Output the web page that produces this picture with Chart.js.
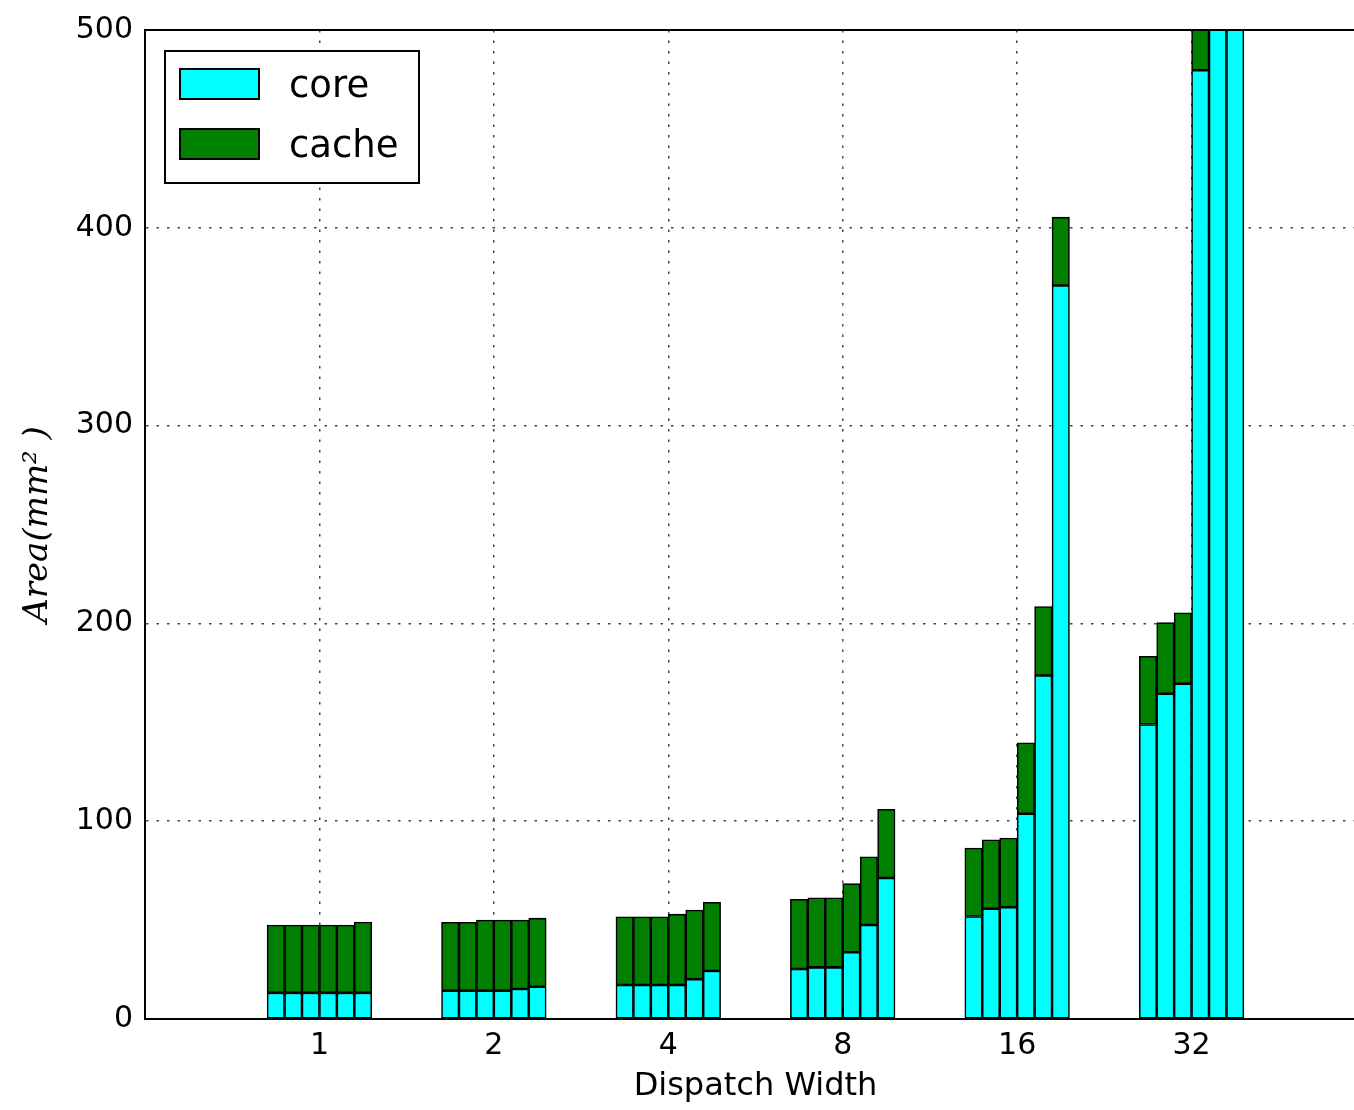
<!DOCTYPE html>
<html>
<head>
<meta charset="utf-8">
<script src="https://cdn.jsdelivr.net/npm/chart.js@4.4.1/dist/chart.umd.min.js"></script>
<style>
  html, body { margin: 0; padding: 0; background: #fff; overflow: hidden; }
</style>
</head>
<body>
<canvas id="areaChart" width="1370" height="1110"></canvas>
<script>
const widths = ["1", "2", "4", "8", "16", "32"];
const yTicks = [0, 100, 200, 300, 400, 500];

// core area (mm^2), six configurations per dispatch width
const coreW1 = [13.2, 13.2, 13.2, 13.2, 13.2, 13.2];
const coreW2 = [14.3, 14.3, 14.3, 14.3, 15.2, 16.3];
const coreW4 = [17.2, 17.2, 17.2, 17.2, 20.1, 24.3];
const coreW8 = [25.3, 26.1, 26.1, 33.7, 47.5, 71.3];
const coreW16 = [51.8, 55.7, 56.5, 103.8, 173.7, 370.8];
const coreW32 = [148.9, 164.4, 169.5, 479.6, 650, 980];

// cache area (mm^2)
const cacheW1 = [34.3, 34.3, 34.3, 34.3, 34.3, 35.8];
const cacheW2 = [34.6, 34.6, 35.7, 35.7, 34.8, 34.7];
const cacheW4 = [34.5, 34.5, 34.5, 35.8, 35.0, 34.7];
const cacheW8 = [35.2, 35.2, 35.2, 34.7, 34.5, 34.7];
const cacheW16 = [34.6, 34.9, 35.0, 35.8, 34.8, 34.6];
const cacheW32 = [34.5, 36.0, 35.9, 35.0, 35.0, 35.0];

const coreGroups = [coreW1, coreW2, coreW4, coreW8, coreW16, coreW32];
const cacheGroups = [cacheW1, cacheW2, cacheW4, cacheW8, cacheW16, cacheW32];

const barStep = 0.1;

function toPoints(groups) {
  const pts = [];
  groups.forEach((vals, g) => {
    vals.forEach((v, j) => {
      pts.push({ x: g + (j - (vals.length - 1) / 2) * barStep, y: v });
    });
  });
  return pts;
}

// top frame line + boxed legend inside the plot
const frameAndLegend = {
  id: "frameAndLegend",
  afterDraw(chart) {
    const { ctx, chartArea } = chart;
    ctx.save();
    ctx.strokeStyle = "#000";
    ctx.lineWidth = 2;
    ctx.beginPath();
    ctx.moveTo(chartArea.left, chartArea.top);
    ctx.lineTo(chartArea.right, chartArea.top);
    ctx.stroke();

    const bx = chartArea.left + 20;
    const by = chartArea.top + 21;
    ctx.fillStyle = "#fff";
    ctx.fillRect(bx, by, 254, 132);
    ctx.strokeRect(bx, by, 254, 132);

    ctx.font = "37px 'DejaVu Sans'";
    ctx.textBaseline = "alphabetic";
    ctx.textAlign = "left";
    chart.data.datasets.forEach((ds, i) => {
      const sy = by + 18 + i * 60;
      ctx.fillStyle = ds.backgroundColor;
      ctx.fillRect(bx + 15, sy, 79, 30);
      ctx.lineWidth = 2;
      ctx.strokeRect(bx + 15, sy, 79, 30);
      ctx.fillStyle = "#000";
      ctx.fillText(ds.label, bx + 124, sy + 28);
    });
    ctx.restore();
  },
};

new Chart(document.getElementById("areaChart"), {
  type: "bar",
  data: {
    datasets: [
      {
        label: "core",
        data: toPoints(coreGroups),
        backgroundColor: "#00ffff",
        borderColor: "#000",
        borderWidth: 1.6,
        borderSkipped: false,
        barPercentage: 1,
        categoryPercentage: 1,
      },
      {
        label: "cache",
        data: toPoints(cacheGroups),
        backgroundColor: "#007f00",
        borderColor: "#000",
        borderWidth: 1.6,
        borderSkipped: false,
        barPercentage: 1,
        categoryPercentage: 1,
      },
    ],
  },
  options: {
    responsive: false,
    animation: false,
    layout: { padding: { left: 0, top: 30, right: 4, bottom: 0 } },
    plugins: {
      legend: { display: false },
      tooltip: { enabled: false },
    },
    scales: {
      x: {
        type: "linear",
        stacked: true,
        offset: false,
        min: -1,
        max: 6,
        afterBuildTicks: (scale) => {
          scale.ticks = widths.map((_, i) => ({ value: i }));
        },
        afterFit: (scale) => {
          scale.height = 91;
        },
        ticks: {
          callback: (value, index) => widths[index],
          font: { family: "DejaVu Sans", size: 30 },
          color: "#000",
          padding: 9,
          maxRotation: 0,
        },
        grid: {
          offset: false,
          color: "#444",
          lineWidth: 1.5,
          drawTicks: false,
        },
        border: { display: true, color: "#000", width: 2, dash: [2.5, 8] },
        title: {
          display: true,
          text: "Dispatch Width",
          font: { family: "DejaVu Sans", size: 32 },
          color: "#000",
          padding: { top: 0, bottom: 4 },
        },
      },
      y: {
        stacked: true,
        min: 0,
        max: 500,
        afterBuildTicks: (scale) => {
          scale.ticks = yTicks.map((v) => ({ value: v }));
        },
        afterFit: (scale) => {
          scale.width = 145;
        },
        ticks: {
          font: { family: "DejaVu Sans", size: 30 },
          color: "#000",
          padding: 12,
        },
        grid: {
          color: "#444",
          lineWidth: 1.5,
          drawTicks: false,
        },
        border: { display: true, color: "#000", width: 2, dash: [2.5, 8] },
        title: {
          display: true,
          text: "Area(mm² )",
          font: { family: "DejaVu Serif", style: "italic", size: 34 },
          color: "#000",
          padding: { top: 18, bottom: 0 },
        },
      },
    },
  },
  plugins: [frameAndLegend],
});
</script>
</body>
</html>
